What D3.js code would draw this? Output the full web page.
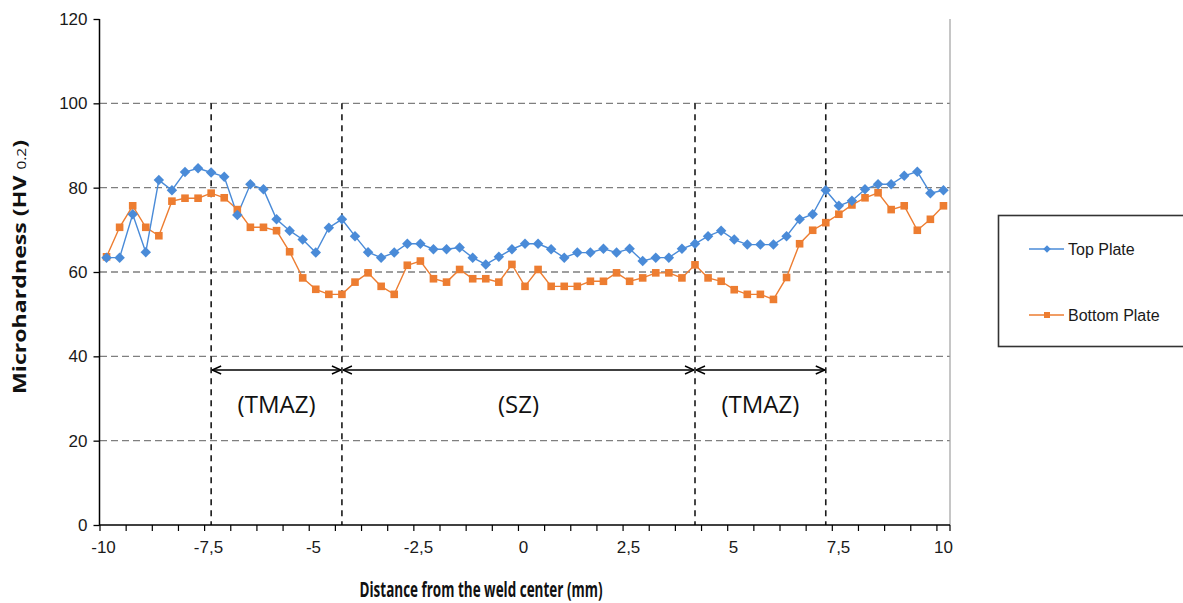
<!DOCTYPE html>
<html>
<head>
<meta charset="utf-8">
<script src="https://cdn.jsdelivr.net/npm/d3@7"></script>
<style>
  body { margin: 0; background: #fff; }
</style>
</head>
<body>
<div id="viz"></div>
<script>
// measured microhardness, one value per indent (left to right)
var topPlate = [63.4,63.4,73.7,64.7,81.8,79.4,83.7,84.6,83.6,82.6,
  73.5,80.8,79.6,72.5,69.8,67.7,64.6,70.5,72.5,68.5,
  64.7,63.4,64.6,66.7,66.7,65.4,65.4,65.8,63.4,61.8,
  63.6,65.4,66.7,66.7,65.4,63.4,64.6,64.6,65.5,64.6,
  65.5,62.6,63.4,63.4,65.5,66.7,68.5,69.8,67.7,66.5,
  66.5,66.5,68.5,72.5,73.7,79.4,75.7,76.9,79.6,80.8,
  80.8,82.8,83.8,78.7,79.4];
var bottomPlate = [63.6,70.6,75.7,70.6,68.6,76.8,77.5,77.5,78.7,77.6,
  74.8,70.6,70.6,69.8,64.8,58.6,55.9,54.7,54.7,57.6,
  59.8,56.6,54.7,61.6,62.6,58.4,57.6,60.6,58.4,58.4,
  57.6,61.8,56.6,60.6,56.6,56.6,56.6,57.8,57.8,59.8,
  57.8,58.6,59.8,59.8,58.6,61.7,58.6,57.8,55.8,54.7,
  54.7,53.5,58.7,66.7,69.9,71.7,73.7,75.9,77.6,78.8,
  74.8,75.7,69.9,72.5,75.7];
var xTicks = [-10, -7.5, -5, -2.5, 0, 2.5, 5, 7.5, 10];
var yTicks = [0, 20, 40, 60, 80, 100, 120];
var yGrid = [20, 40, 60, 80, 100];
// zone borders sit on these indents
var zoneIdx = [8, 18, 45, 55];
var zoneNames = ["(TMAZ)", "(SZ)", "(TMAZ)"];

(function() {
var W = 1183, H = 603;
var pLeft = 100, pRight = 950, pTop = 19, pBottom = 525;
var blue = "#4a8bd8", orange = "#ed7d31";

var svg = d3.select("#viz").append("svg")
    .attr("width", W).attr("height", H);

var idx = topPlate.map(function(d, i) { return i; });
var x = d3.scaleBand().domain(idx).range([pLeft, pRight]);
var cx = function(i) { return x(i) + x.bandwidth() / 2; };
var xl = d3.scaleLinear().domain([-10, 10]).range([103, 943]);
var y = d3.scaleLinear().domain([0, 120]).range([pBottom, pTop]);

// grid
svg.append("g").selectAll("line").data(yGrid).enter().append("line")
    .attr("x1", pLeft).attr("x2", pRight)
    .attr("y1", function(d) { return y(d); }).attr("y2", function(d) { return y(d); })
    .style("stroke", "#7f7f7f").style("stroke-width", 1.3)
    .style("stroke-dasharray", "7,4");
svg.append("line")
    .attr("x1", pRight).attr("x2", pRight).attr("y1", pTop).attr("y2", pBottom)
    .style("stroke", "#a0a0a0").style("stroke-width", 1.2);

// zone borders
svg.append("g").selectAll("line").data(zoneIdx).enter().append("line")
    .attr("x1", function(d) { return cx(d); }).attr("x2", function(d) { return cx(d); })
    .attr("y1", y(100)).attr("y2", pBottom)
    .style("stroke", "#1a1a1a").style("stroke-width", 1.6)
    .style("stroke-dasharray", "6,5");

// series
var line = function(vals) {
  return d3.line().x(function(d, i) { return cx(i); }).y(function(d) { return y(d); })(vals);
};
svg.append("path").attr("d", line(bottomPlate))
    .style("fill", "none").style("stroke", orange).style("stroke-width", 1.4);
svg.append("path").attr("d", line(topPlate))
    .style("fill", "none").style("stroke", blue).style("stroke-width", 1.4);

var diamond = d3.symbol().type(d3.symbolDiamond2).size(70);
var sq = 7.6;
svg.append("g").selectAll("rect").data(bottomPlate).enter().append("rect")
    .attr("x", function(d, i) { return cx(i) - sq / 2; })
    .attr("y", function(d) { return y(d) - sq / 2; })
    .attr("width", sq).attr("height", sq)
    .style("fill", orange);
svg.append("g").selectAll("path").data(topPlate).enter().append("path")
    .attr("d", diamond)
    .attr("transform", function(d, i) { return "translate(" + cx(i) + "," + y(d) + ")"; })
    .style("fill", blue);

// zone arrows
var defs = svg.append("defs");
defs.append("marker").attr("id", "ah").attr("viewBox", "0 0 10 10")
    .attr("refX", 10).attr("refY", 5).attr("markerWidth", 10).attr("markerHeight", 10)
    .attr("markerUnits", "userSpaceOnUse").attr("orient", "auto-start-reverse")
  .append("path").attr("d", "M1,1 L10,5 L1,9")
    .style("fill", "none").style("stroke", "#000").style("stroke-width", 1.4);
var ay = 370;
zoneNames.forEach(function(name, k) {
  var a = cx(zoneIdx[k]), b = cx(zoneIdx[k + 1]);
  svg.append("line")
      .attr("x1", a + 1).attr("x2", b - 1).attr("y1", ay).attr("y2", ay)
      .style("stroke", "#000").style("stroke-width", 1.3)
      .attr("marker-start", "url(#ah)").attr("marker-end", "url(#ah)");
  svg.append("text")
      .attr("x", (a + b) / 2).attr("y", 413)
      .attr("text-anchor", "middle")
      .style("font-family", "'Open Sans', sans-serif").style("font-size", "24px")
      .style("fill", "#111")
      .text(name);
});

// axes
var yAxis = svg.append("g").attr("transform", "translate(" + (pLeft - 0.5) + ",0)")
    .call(d3.axisLeft(y).tickValues(yTicks).tickSize(6).tickPadding(6));
yAxis.select(".domain").attr("d", "M0," + pTop + "V" + pBottom)
    .style("stroke", "#000").style("stroke-width", 1.5);
yAxis.selectAll(".tick line").style("stroke", "#000").style("stroke-width", 1.3);
yAxis.selectAll(".tick text")
    .style("font-family", "'Liberation Sans', Arial, sans-serif").style("font-size", "17px")
    .style("fill", "#1a1a1a");

var xAxisG = svg.append("g");
xAxisG.append("line").attr("x1", pLeft - 1).attr("x2", pRight).attr("y1", pBottom).attr("y2", pBottom)
    .style("stroke", "#000").style("stroke-width", 1.5);
var tickPos = idx.filter(function(i) { return i % 2 === 0; }).map(function(i) { return x(i); });
tickPos.push(pRight);
xAxisG.selectAll(".xt").data(tickPos).enter().append("line")
    .attr("x1", function(d) { return d; }).attr("x2", function(d) { return d; })
    .attr("y1", pBottom).attr("y2", pBottom + 6)
    .style("stroke", "#000").style("stroke-width", 1.2);
var xAxis = svg.append("g").attr("transform", "translate(0," + pBottom + ")")
    .call(d3.axisBottom(xl).tickValues(xTicks).tickSize(0).tickPadding(16)
      .tickFormat(function(d) { return String(d).replace(".", ","); }));
xAxis.select(".domain").remove();
xAxis.selectAll(".tick text")
    .style("font-family", "'Liberation Sans', Arial, sans-serif").style("font-size", "17px")
    .style("fill", "#1a1a1a");

// axis titles
var yt = svg.append("text")
    .attr("transform", "translate(26,267) rotate(-90)")
    .attr("text-anchor", "middle")
    .attr("textLength", 254).attr("lengthAdjust", "spacingAndGlyphs")
    .style("font-family", "'Open Sans', sans-serif").style("font-weight", "bold")
    .style("font-size", "18px").style("fill", "#111");
yt.append("tspan").text("Microhardness  (HV ");
yt.append("tspan").style("font-size", "12px").style("font-weight", "normal").text("0.2");
yt.append("tspan").text(")");

svg.append("text")
    .attr("x", 481).attr("y", 597)
    .attr("text-anchor", "middle")
    .attr("textLength", 243).attr("lengthAdjust", "spacingAndGlyphs")
    .style("font-family", "'Open Sans', sans-serif").style("font-weight", "bold")
    .style("font-size", "22px").style("fill", "#111")
    .text("Distance from the weld center (mm)");

// legend
var lg = svg.append("g");
lg.append("rect").attr("x", 998.5).attr("y", 215.5).attr("width", 200).attr("height", 131)
    .style("fill", "#fff").style("stroke", "#333").style("stroke-width", 1.6);
var legendItems = [
  { name: "Top Plate", color: blue, y: 249, sym: "d" },
  { name: "Bottom Plate", color: orange, y: 315, sym: "s" }
];
legendItems.forEach(function(it) {
  lg.append("line").attr("x1", 1029).attr("x2", 1064).attr("y1", it.y).attr("y2", it.y)
      .style("stroke", it.color).style("stroke-width", 1.4);
  if (it.sym === "d") {
    lg.append("path").attr("d", d3.symbol().type(d3.symbolDiamond2).size(36))
        .attr("transform", "translate(1047," + it.y + ")").style("fill", it.color);
  } else {
    lg.append("rect").attr("x", 1044).attr("y", it.y - 3).attr("width", 6).attr("height", 6)
        .style("fill", it.color);
  }
  lg.append("text").attr("x", 1068).attr("y", it.y + 5.5)
      .style("font-family", "'Liberation Sans', Arial, sans-serif").style("font-size", "16px")
      .style("fill", "#1a1a1a")
      .text(it.name);
});
})();
</script>
</body>
</html>
